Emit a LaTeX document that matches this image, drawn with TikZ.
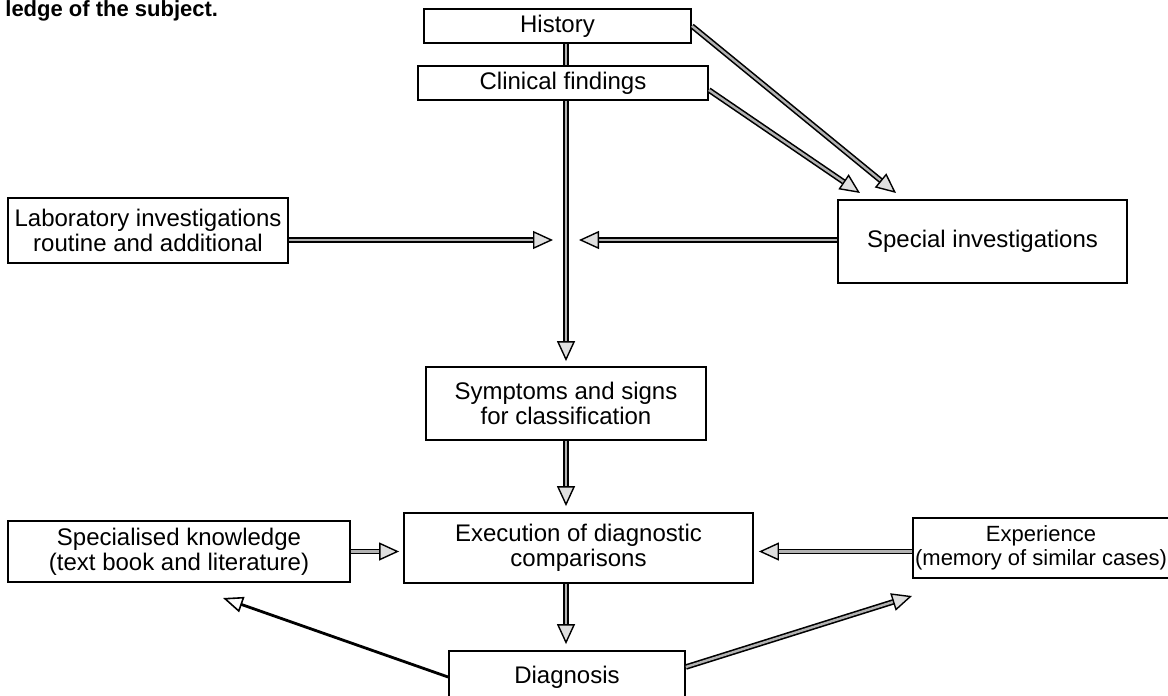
\documentclass[tikz,border=0pt]{standalone}
\usepackage{fontspec}
\setmainfont{Liberation Sans}
\usetikzlibrary{arrows.meta}

\begin{document}
\begin{tikzpicture}[
    x=0.5pt, y=-0.5pt,
    stage/.style={rectangle, draw, line width=0.9pt, inner sep=1pt,
                  text centered, align=center,
                  font=\fontsize{12}{12.5}\selectfont},
    flow/.style={draw=black, line width=0.8pt,
                 double=gray!60, double distance=1.2pt,
                 -{Triangle[length=10pt, width=9pt, fill=gray!25, line width=0.7pt]}},
    plain/.style={flow, -},
    link/.style={line width=1.4pt,
                 -{Triangle[open, length=10pt, width=8pt, line width=0.8pt]}}
]
    \useasboundingbox (0,0) rectangle (1168,696);

    % Kopregel
    \node[anchor=base west, inner sep=0,
          font=\fontsize{11}{11}\selectfont\bfseries] (ledge) at (5,17)
        {ledge of the subject.};

    % Gegevens
    \node[stage, minimum width=133.5pt, minimum height=17pt] (hist) at (557.5,26)
        {History};
    \node[stage, minimum width=145pt, minimum height=17pt] (clin) at (563,83)
        {Clinical findings};
    \node[stage, minimum width=140pt, minimum height=32.5pt] (lab) at (148,230.5)
        {Laboratory investigations\\routine and additional};
    \node[stage, minimum width=144.5pt, minimum height=41.5pt] (spec) at (982.5,241.5)
        {Special investigations};

    % Classificatie
    \node[stage, minimum width=140pt, minimum height=36.5pt] (symp) at (566,403.5)
        {Symptoms and signs\\for classification};

    % Vergelijking
    \node[stage, minimum width=174.5pt, minimum height=35pt] (exec) at (578.5,548)
        {Execution of diagnostic\\comparisons};
    \node[stage, minimum width=171pt, minimum height=30.5pt] (know) at (179,551.5)
        {Specialised knowledge\\(text book and literature)};
    \node[stage, minimum width=125pt, minimum height=30pt,
          font=\fontsize{11}{12}\selectfont] (expe) at (1041,548)
        {Experience\\(memory of similar cases)};

    % Uitkomst
    \node[stage, minimum width=118pt, minimum height=26pt] (diag) at (567,677)
        {Diagnosis};

    % Hulppunten
    \coordinate (spine)  at (566,240);
    \coordinate (labin)  at (553,240);
    \coordinate (specin) at (579,240);
    \coordinate (histin) at (896,193);
    \coordinate (clinin) at (860,193);
    \coordinate (knowin) at (223,598);
    \coordinate (expein) at (912,596);

    % Pijlen
    \draw[plain] (hist.south -| spine) -- (clin.north -| spine);
    \draw[flow, shorten >=2.5pt] (clin.south -| spine) -- (symp.north -| spine);
    \draw[flow] (lab.east |- spine) -- (labin);
    \draw[flow] (spec.west |- spine) -- (specin);
    \draw[flow] (hist.east) -- (histin);
    \draw[flow] ([yshift=-3.5pt]clin.east) -- (clinin);
    \draw[flow, shorten >=3pt] (symp.south -| spine) -- (exec.north -| spine);
    \draw[flow, shorten >=2pt] (know.east) -- (know.east -| exec.west);
    \draw[flow, shorten >=2.5pt] (expe.west |- know.east) -- (exec.east |- know.east);
    \draw[flow, shorten >=3pt] (exec.south -| spine) -- (diag.north -| spine);
    \draw[link] (diag.west) -- (knowin);
    \draw[flow] ([yshift=5pt]diag.east) -- (expein);

\end{tikzpicture}
\end{document}
